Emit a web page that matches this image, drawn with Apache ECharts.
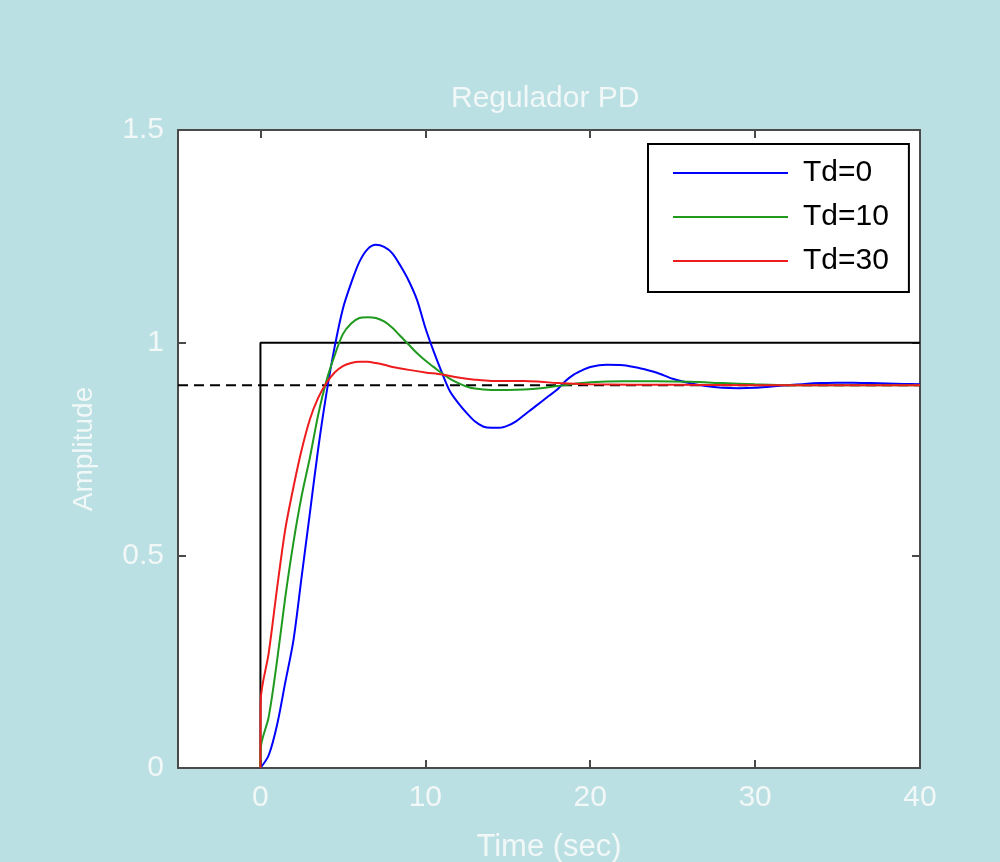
<!DOCTYPE html>
<html>
<head>
<meta charset="utf-8">
<script src="https://cdn.jsdelivr.net/npm/echarts@6/dist/echarts.min.js"></script>
<style>
html,body{margin:0;padding:0;background:#bae0e3;}
#c{width:1000px;height:862px;}
</style>
</head>
<body>
<div id="c"></div>
<script>
// Data
const seriesNames = ['Td=0', 'Td=10', 'Td=30'];
const td0 = [[0,0],[0.5,0.03],[1,0.1],[1.5,0.2],[2,0.3],[2.5,0.45],[3,0.6],[3.5,0.75],[4,0.88],[4.5,0.99],[5,1.08],[5.5,1.14],[6,1.19],[6.5,1.22],[7,1.23],[7.5,1.225],[8,1.21],[8.5,1.18],[9,1.145],[9.5,1.1],[10,1.035],[10.5,0.98],[11,0.93],[11.5,0.885],[12,0.858],[12.5,0.835],[13,0.815],[13.5,0.803],[14,0.8],[14.5,0.8],[15,0.805],[15.5,0.815],[16,0.83],[16.5,0.845],[17,0.86],[17.5,0.875],[18,0.89],[18.5,0.91],[19,0.925],[19.5,0.935],[20,0.943],[21,0.948],[22,0.947],[23,0.94],[24,0.93],[25,0.915],[26,0.905],[27,0.898],[28,0.894],[29,0.893],[30,0.894],[31,0.897],[32,0.9],[33,0.903],[34,0.905],[35,0.906],[36,0.906],[37,0.905],[38,0.904],[39,0.903],[40,0.902]];
const td10 = [[0,0],[0.03,0.05],[0.5,0.12],[1,0.25],[1.5,0.4],[2,0.53],[2.5,0.64],[3,0.73],[3.5,0.83],[4,0.91],[4.5,0.97],[5,1.02],[5.5,1.045],[6,1.058],[6.5,1.06],[7,1.058],[7.5,1.05],[8,1.035],[8.5,1.015],[9,0.995],[9.5,0.975],[10,0.958],[10.5,0.943],[11,0.928],[11.5,0.915],[12,0.905],[12.5,0.897],[13,0.892],[14,0.889],[15,0.889],[16,0.89],[17,0.893],[18,0.898],[19,0.903],[20,0.907],[22,0.909],[24,0.909],[26,0.908],[28,0.905],[30,0.902],[32,0.9],[35,0.9],[40,0.9]];
const td30 = [[0,0],[0.02,0.16],[0.5,0.27],[1,0.42],[1.5,0.56],[2,0.66],[2.5,0.748],[3,0.82],[3.5,0.87],[4,0.905],[4.5,0.93],[5,0.945],[5.5,0.952],[6,0.955],[6.5,0.955],[7,0.952],[7.5,0.948],[8,0.943],[9,0.936],[10,0.93],[11,0.925],[12,0.918],[13,0.913],[14,0.91],[15,0.91],[16,0.91],[17,0.908],[18,0.905],[20,0.902],[25,0.901],[30,0.9],[40,0.9]];
const stepRef = [[0,0],[0,1],[40,1]];
const finalLevel = [[-5,0.9],[40,0.9]];
const xTicks = [0,10,20,30,40];

const txt = '#f2f7f7';
const font = 'Liberation Sans, Arial, sans-serif';
const axisLineStyle = {color:'#4a4a4a', width:2};

const chart = echarts.init(document.getElementById('c'));
chart.setOption({
  backgroundColor:'#bae0e3',
  animation:false,
  title:{text:'Regulador PD', left:446, top:79, textStyle:{color:txt, fontSize:30, fontWeight:'normal', fontFamily:font}},
  grid:{left:178, right:80, top:130, bottom:94, show:true, backgroundColor:'#ffffff', borderWidth:0, outerBoundsMode:'none', containLabel:false},
  legend:{
    data:seriesNames, orient:'vertical', left:648, top:144,
    backgroundColor:'#ffffff', borderColor:'#000', borderWidth:2, borderRadius:0,
    padding:[14,20,16,25], itemGap:14, itemWidth:115, itemHeight:2, icon:'rect',
    textStyle:{color:'#000', fontSize:30, fontFamily:font, padding:[0,0,0,10]}
  },
  xAxis:[
    {type:'value', min:-5, max:40, position:'bottom',
     name:'Time (sec)', nameLocation:'middle', nameGap:64,
     nameTextStyle:{color:txt, fontSize:31, fontFamily:font},
     axisLine:{show:true, onZero:false, lineStyle:axisLineStyle},
     axisTick:{show:true, inside:true, length:8, customValues:xTicks, lineStyle:axisLineStyle},
     axisLabel:{show:true, customValues:xTicks, color:txt, fontSize:30, fontFamily:font, margin:15},
     splitLine:{show:false}},
    {type:'value', min:-5, max:40, position:'top',
     axisLine:{show:true, onZero:false, lineStyle:axisLineStyle},
     axisTick:{show:true, inside:true, length:8, customValues:xTicks, lineStyle:axisLineStyle},
     axisLabel:{show:false}, splitLine:{show:false}}
  ],
  yAxis:[
    {type:'value', min:0, max:1.5, interval:0.5, position:'left',
     name:'Amplitude', nameLocation:'middle', nameGap:80,
     nameTextStyle:{color:txt, fontSize:28, fontFamily:font},
     axisLine:{show:true, onZero:false, lineStyle:axisLineStyle},
     axisTick:{show:true, inside:true, length:8, lineStyle:axisLineStyle},
     axisLabel:{color:txt, fontSize:30, fontFamily:font, margin:14},
     splitLine:{show:false}},
    {type:'value', min:0, max:1.5, interval:0.5, position:'right',
     axisLine:{show:true, onZero:false, lineStyle:axisLineStyle},
     axisTick:{show:true, inside:true, length:8, lineStyle:axisLineStyle},
     axisLabel:{show:false}, splitLine:{show:false}}
  ],
  series:[
    {name:'step', type:'line', data:stepRef, showSymbol:false, lineStyle:{color:'#000', width:2}, itemStyle:{color:'#000'}, z:1},
    {name:'final', type:'line', data:finalLevel, showSymbol:false, lineStyle:{color:'#000', width:2, type:[10,6]}, itemStyle:{color:'#000'}, z:1},
    {name:seriesNames[0], type:'line', data:td0, showSymbol:false, smooth:0.3, lineStyle:{color:'#0000ff', width:2}, itemStyle:{color:'#0000ff'}, z:3},
    {name:seriesNames[1], type:'line', data:td10, showSymbol:false, smooth:0.3, lineStyle:{color:'#1f9a1f', width:2}, itemStyle:{color:'#1f9a1f'}, z:3},
    {name:seriesNames[2], type:'line', data:td30, showSymbol:false, smooth:0.3, lineStyle:{color:'#ee1c1c', width:2}, itemStyle:{color:'#ee1c1c'}, z:3}
  ]
});
</script>
</body>
</html>
